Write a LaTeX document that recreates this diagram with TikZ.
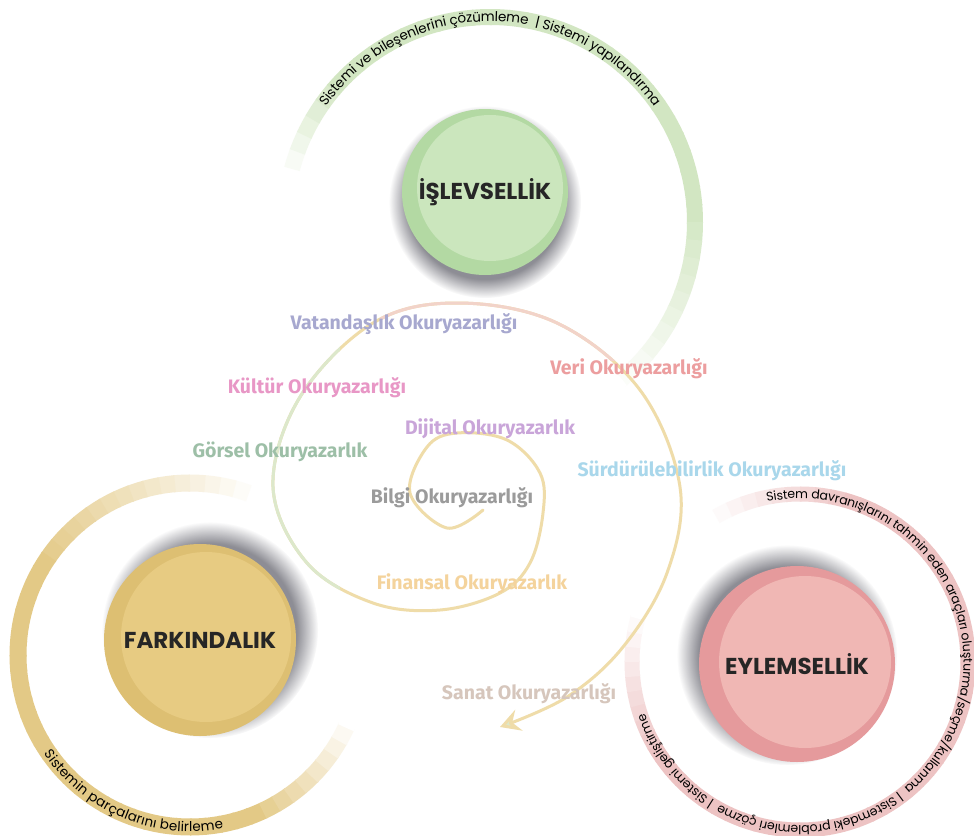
\documentclass[tikz,border=0pt]{standalone}
\usepackage{fontspec}
\setmainfont{Fira Sans}
\newfontfamily\popfont{Poppins}
\usetikzlibrary{positioning,decorations.text,arrows.meta,fadings,calc}

\definecolor{grnrim}{HTML}{B3D9A3}
\definecolor{grnin}{HTML}{CBE6BD}
\definecolor{gldrim}{HTML}{DDBF72}
\definecolor{gldin}{HTML}{E7CB82}
\definecolor{pnkrim}{HTML}{E59A9C}
\definecolor{pnkin}{HTML}{F0B7B4}
\definecolor{grnring}{HTML}{D2E6C2}
\definecolor{gldring}{HTML}{E3C986}
\definecolor{pnkring}{HTML}{EDC3C3}
\definecolor{shadowc}{HTML}{5E5E68}
\definecolor{spir}{HTML}{EFDCA9}
\definecolor{spirgrn}{HTML}{DCE8CB}
\definecolor{spirpnk}{HTML}{F2D3C9}
\definecolor{cvat}{HTML}{A7A8CF}
\definecolor{cveri}{HTML}{EC9E9F}
\definecolor{ckul}{HTML}{E897C6}
\definecolor{cdij}{HTML}{C9A5D9}
\definecolor{cgor}{HTML}{9DBFA7}
\definecolor{csur}{HTML}{A9D7EB}
\definecolor{cbil}{HTML}{9B9B9B}
\definecolor{cfin}{HTML}{F4D39C}
\definecolor{csan}{HTML}{D6C6BC}

\newcommand\rtfont{\popfont\fontsize{13.5}{15}\selectfont}
\newcommand\rtsmall{\popfont\fontsize{12.5}{14}\selectfont}

\tikzset{
  disk/.style={circle, inner sep=0pt, font=\popfont\bfseries\fontsize{23}{26}\selectfont, text=black!85},
  lit/.style={font=\bfseries\fontsize{19.5}{22}\selectfont},
  spiral/.style={line width=3pt, line cap=round},
  shadowdisk/.style={fill=shadowc, opacity=0.7, path fading=circle with fuzzy edge 20 percent},
}

\begin{document}
\begin{tikzpicture}[x=1pt, y=1pt]
  \useasboundingbox (0,0) rectangle (974,-835);
  \fill[white] (0,0) rectangle (974,-835);

  \coordinate (grc) at (490,-222);
  \coordinate (gdc) at (190,-655);
  \coordinate (pkc) at (800,-662);

  % halkalar
  \foreach \a in {170,165,...,-50} {
    \pgfmathtruncatemacro\p{max(0,min(100,(170-\a)/30*100,(\a+50)/55*100))}
    \draw[grnring!\p!white, line width=16pt] (grc) ++(\a:205) arc[start angle=\a, end angle=\a-5.5, radius=205];
  }
  \foreach \a in {65,70,...,335} {
    \pgfmathtruncatemacro\p{max(0,min(100,(\a-65)/80*100,(335-\a)/45*100))}
    \draw[gldring!\p!white, line width=17pt] (gdc) ++(\a:172) arc[start angle=\a, end angle=\a+5.5, radius=172];
  }
  \foreach \a in {125,120,...,-195} {
    \pgfmathtruncatemacro\p{max(0,min(100,(125-\a)/50*100,(\a+195)/50*100))}
    \draw[pnkring!\p!white, line width=15pt] (pkc) ++(\a:168) arc[start angle=\a, end angle=\a-5.5, radius=168];
  }

  % halka yazilari
  \path[decorate, decoration={text along path, text align=center, raise=-4.5pt,
    text={|\rtfont|Sistemi ve bileşenlerini çözümleme \ {\textbar}\  Sistemi yapılandırma}}]
    (grc) ++(165:205) arc[start angle=165, end angle=15, radius=205];
  \path[decorate, decoration={text along path, text align=center, raise=-4.5pt,
    text={|\rtfont|Sistemin parçalarını belirleme}}]
    (gdc) ++(200:172) arc[start angle=200, end angle=295, radius=172];
  \path[decorate, decoration={text along path, text align=center, raise=-4.5pt,
    text={|\rtsmall|Sistem davranışlarını tahmin eden araçları oluşturma/seçme/kullanma \ {\textbar}\  Sistemdeki problemleri çözme \ {\textbar}\  Sistemi geliştirme}}]
    (pkc) ++(126:168) arc[start angle=126, end angle=-186, radius=168];

  % sarmal
  \def\spiralpts{(483,-510) (447,-528) (410,-493) (427,-447) (457,-433) (507,-440) (540,-473) (543,-513) (530,-563) (500,-593) (440,-610) (373,-603) (307,-563) (273,-487) (300,-397) (373,-323) (457,-303) (557,-323) (640,-390) (680,-487) (667,-573) (623,-647) (567,-697) (500,-727)}
  \draw[spiral, spir, -{Stealth[length=20pt, width=22pt, inset=7pt, fill=spirgrn]}] plot[smooth, tension=0.6] coordinates {\spiralpts};
  \begin{scope}
    \clip (0,-330) rectangle (340,-600);
    \draw[spiral, spirgrn] plot[smooth, tension=0.6] coordinates {\spiralpts};
  \end{scope}
  \begin{scope}
    \clip (380,-280) rectangle (640,-360);
    \draw[spiral, spirpnk] plot[smooth, tension=0.6] coordinates {\spiralpts};
  \end{scope}

  % okuryazarliklar
  \node[lit, text=cvat] (vat) at (404,-324) {Vatandaşlık Okuryazarlığı};
  \node[lit, text=cveri] (veri) at (629,-369) {Veri Okuryazarlığı};
  \node[lit, text=ckul] (kul) at (317,-388) {Kültür Okuryazarlığı};
  \node[lit, text=cdij] (dij) at (490,-429) {Dijital Okuryazarlık};
  \node[lit, text=cgor] (gor) at (280,-452) {Görsel Okuryazarlık};
  \node[lit, text=csur] (sur) at (712,-471) {Sürdürülebilirlik Okuryazarlığı};
  \node[lit, text=cbil] (bil) at (452,-498) {Bilgi Okuryazarlığı};
  \node[lit, text=cfin] (fin) at (472,-584) {Finansal Okuryazarlık};
  \node[lit, text=csan] (san) at (529,-694) {Sanat Okuryazarlığı};

  % golgeler
  \fill[shadowdisk] (485,-202) circle (96);
  \fill[shadowdisk] (210,-630) circle (108);
  \fill[shadowdisk] (787,-655) circle (110);

  % daireler
  \node[disk, minimum size=166pt, fill=grnrim,
    path picture={\fill[grnin] ($(path picture bounding box.center)+(5,4)$) circle (73);}]
    (isl) at (485,-192) {İŞLEVSELLİK};
  \node[disk, minimum size=192pt, fill=gldrim,
    path picture={\fill[gldin] ($(path picture bounding box.center)+(6,3)$) circle (85);}]
    (far) at (200,-640) {FARKINDALIK};
  \node[disk, minimum size=196pt, fill=pnkrim,
    path picture={\fill[pnkin] ($(path picture bounding box.center)+(8,2)$) circle (86);}]
    (eyl) at (797,-664) {EYLEMSELLİK};
\end{tikzpicture}
\end{document}
